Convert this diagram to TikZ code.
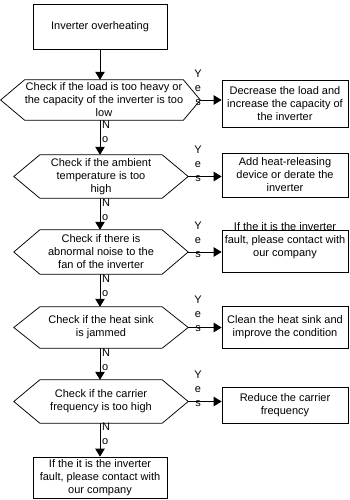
\documentclass[tikz,border=0pt]{standalone}
\usepackage{fontspec}
\setmainfont{Liberation Sans}
\usetikzlibrary{arrows.meta,calc}
\begin{document}
\begin{tikzpicture}[x=1pt,y=-1pt,
  ln/.style={line width=0.75pt},
  box/.style={draw, ln, inner sep=0pt, align=center, font=\fontsize{11}{13}\selectfont},
  txt/.style={inner sep=0pt, align=center, font=\fontsize{11}{13}\selectfont},
  yeslbl/.style={inner sep=0pt, align=center, font=\fontsize{11}{14}\selectfont},
  nolbl/.style={inner sep=0pt, align=left, anchor=west, font=\fontsize{11}{13.5}\selectfont},
  arr/.style={ln, -{Triangle[length=8pt,width=9.5pt]}}]
\useasboundingbox (0,0) rectangle (349,500);

% start box
\node[box, minimum width=134, minimum height=45] (A) at (100,26.5) {Inverter overheating};

% decision 1
\node[txt, minimum width=144, minimum height=40] (h1) at (104,100)
  {Check if the load is too heavy or\\the capacity of the inverter is too\\low};
\draw[ln] (h1.north west) -- (h1.north east) -- ([xshift=17]h1.east) coordinate (h1r)
  -- (h1.south east) -- (h1.south west) -- ([xshift=-24]h1.west) coordinate (h1l) -- cycle;
\node[box, minimum width=126, minimum height=47] (b1) at (285,103.5)
  {Decrease the load and\\increase the capacity of\\the inverter};

% decision 2
\node[txt, minimum width=122, minimum height=43] (h2) at (101,176.5)
  {Check if the ambient\\temperature is too\\high};
\draw[ln] (h2.north west) -- (h2.north east) -- ([xshift=26]h2.east) coordinate (h2r)
  -- (h2.south east) -- (h2.south west) -- ([xshift=-26]h2.west) coordinate (h2l) -- cycle;
\node[box, minimum width=126, minimum height=44] (b2) at (285,175)
  {Add heat-releasing\\device or derate the\\inverter};

% decision 3
\node[txt, minimum width=122, minimum height=44] (h3) at (101,252)
  {Check if there is\\abnormal noise to the\\fan of the inverter};
\draw[ln] (h3.north west) -- (h3.north east) -- ([xshift=26]h3.east) coordinate (h3r)
  -- (h3.south east) -- (h3.south west) -- ([xshift=-26]h3.west) coordinate (h3l) -- cycle;
\node[box, minimum width=126, minimum height=42] (b3) at (285,251) {};
\node[txt] (b3t) at (285,241) {If the it is the inverter\\fault, please contact with\\our company};

% decision 4
\node[txt, minimum width=122, minimum height=41] (h4) at (101,327.5)
  {Check if the heat sink\\is jammed};
\draw[ln] (h4.north west) -- (h4.north east) -- ([xshift=26]h4.east) coordinate (h4r)
  -- (h4.south east) -- (h4.south west) -- ([xshift=-26]h4.west) coordinate (h4l) -- cycle;
\node[box, minimum width=126, minimum height=42] (b4) at (285,327)
  {Clean the heat sink and\\improve the condition};

% decision 5
\node[txt, minimum width=122, minimum height=43] (h5) at (101,401.5)
  {Check if the carrier\\frequency is too high};
\draw[ln] (h5.north west) -- (h5.north east) -- ([xshift=26]h5.east) coordinate (h5r)
  -- (h5.south east) -- (h5.south west) -- ([xshift=-26]h5.west) coordinate (h5l) -- cycle;
\node[box, minimum width=126, minimum height=36] (b5) at (285,405)
  {Reduce the carrier\\frequency};

% final box
\node[box, minimum width=134, minimum height=41] (F) at (100,477.5)
  {If the it is the inverter\\fault, please contact with\\our company};

% vertical "No" connectors
\draw[arr] (A.south) -- (A.south |- h1.north);
\draw[arr] (A.south |- h1.south) -- (A.south |- h2.north);
\draw[arr] (A.south |- h2.south) -- (A.south |- h3.north);
\draw[arr] (A.south |- h3.south) -- (A.south |- h4.north);
\draw[arr] (A.south |- h4.south) -- (A.south |- h5.north);
\draw[arr] (A.south |- h5.south) -- (F.north);

% "Yes" connectors
\draw[arr] (h1r) -- (h1r -| b1.west);
\draw[arr] (h2r) -- (h2r -| b2.west);
\draw[arr] (h3r) -- (h3r -| b3.west);
\draw[arr] (h4r) -- (h4r -| b4.west);
\draw[arr] (h5r) -- (h5r -| b5.west);

% Yes labels
\node[yeslbl] (y1) at (198,88) {Y\\e\\s};
\node[yeslbl] (y2) at (198,164) {Y\\e\\s};
\node[yeslbl] (y3) at (198,240) {Y\\e\\s};
\node[yeslbl] (y4) at (198,314) {Y\\e\\s};
\node[yeslbl] (y5) at (198,389) {Y\\e\\s};

% No labels
\node[nolbl] (n1) at (102,132) {N\\o};
\node[nolbl] (n2) at (102,210) {N\\o};
\node[nolbl] (n3) at (102,286) {N\\o};
\node[nolbl] (n4) at (102,360) {N\\o};
\node[nolbl] (n5) at (102,434) {N\\o};
\end{tikzpicture}
\end{document}
